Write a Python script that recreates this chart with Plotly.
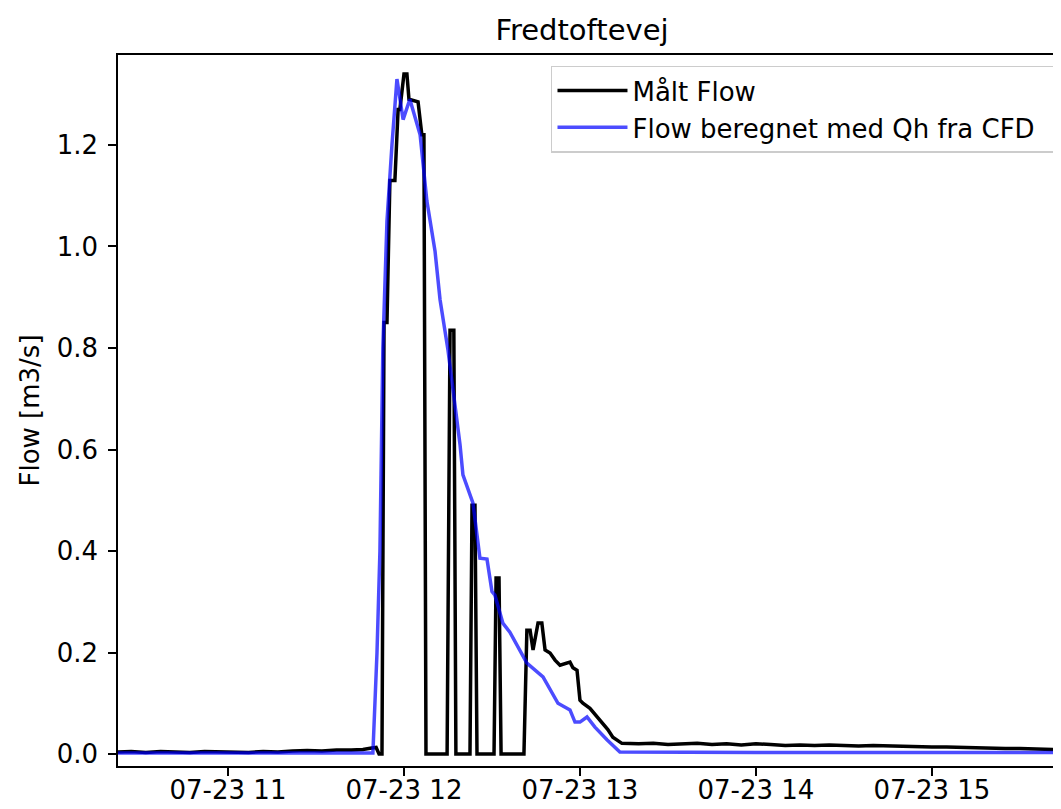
import pandas as pd
import plotly.graph_objects as go

DATE = "2021-07-23 "

# Measured flow (Målt Flow)
maalt_time = [
    "10:22", "10:27", "10:32", "10:37", "10:42", "10:47", "10:52", "10:57",
    "11:02", "11:07", "11:12", "11:17", "11:22", "11:27", "11:32", "11:37",
    "11:42", "11:46", "11:49", "11:50:30", "11:51:30", "11:52:30", "11:53:12",
    "11:54:12", "11:55:12", "11:56:54", "11:58:00", "11:58:36", "12:00:00",
    "12:01:00", "12:01:42", "12:04:48", "12:06:06", "12:06:48", "12:07:30",
    "12:14:42", "12:15:42", "12:17:00", "12:17:42", "12:22:30", "12:23:12",
    "12:24:12", "12:24:54", "12:30:42", "12:31:24", "12:32:24", "12:33:06",
    "12:40:54", "12:41:54", "12:43:00", "12:44:00", "12:45:42", "12:47:00",
    "12:48:06", "12:49:48", "12:51:30", "12:53:12", "12:55:36", "12:56:36",
    "12:57:36", "12:59:00", "13:00:00", "13:01:00", "13:03:24", "13:05:30",
    "13:07:48", "13:09:30", "13:11:12", "13:13:00", "13:14:18", "13:20",
    "13:25", "13:30", "13:35", "13:40", "13:45", "13:50", "13:55", "14:00",
    "14:05", "14:10", "14:15", "14:20", "14:25", "14:30", "14:35", "14:40",
    "14:45", "14:50", "14:55", "15:00", "15:05", "15:10", "15:15", "15:20",
    "15:25", "15:30", "15:35", "15:40", "15:45",
]
maalt_flow = [
    0.004, 0.005, 0.003, 0.005, 0.004, 0.003, 0.005, 0.004,
    0.004, 0.003, 0.005, 0.004, 0.006, 0.007, 0.006, 0.008,
    0.008, 0.009, 0.012, 0.013, 0.0, 0.0, 0.85,
    0.85, 1.13, 1.13, 1.27, 1.27, 1.34,
    1.34, 1.29, 1.285, 1.22, 1.22, 0.0,
    0.0, 0.835, 0.835, 0.0, 0.0, 0.49,
    0.49, 0.0, 0.0, 0.347, 0.347, 0.0,
    0.0, 0.244, 0.244, 0.205, 0.258, 0.258,
    0.205, 0.199, 0.185, 0.175, 0.179, 0.181,
    0.17, 0.165, 0.106, 0.10, 0.09, 0.075,
    0.061, 0.048, 0.033, 0.025, 0.021, 0.020,
    0.021, 0.019, 0.020, 0.021, 0.019, 0.020, 0.018, 0.020,
    0.019, 0.017, 0.018, 0.017, 0.018, 0.017, 0.016, 0.017,
    0.016, 0.015, 0.015, 0.014, 0.014, 0.013, 0.012, 0.012,
    0.011, 0.011, 0.010, 0.009, 0.008,
]

# Flow computed with Qh from CFD
cfd_time = [
    "10:22", "11:00", "11:30", "11:49:24", "11:50:48", "11:51:48", "11:52:48",
    "11:54:12", "11:55:54", "11:57:36", "11:59:42", "12:02:00", "12:05:30",
    "12:07:48", "12:10:36", "12:12:18", "12:15:00", "12:19:06", "12:20:06",
    "12:23:30", "12:25:54", "12:28:18", "12:30:00", "12:31:00", "12:33:42",
    "12:36:06", "12:41:54", "12:47:24", "12:52:30", "12:56:36", "12:58:18",
    "13:00:00", "13:02:24", "13:05:06", "13:09:12", "13:13:36", "14:00",
    "15:00", "15:45",
]
cfd_flow = [
    0.002, 0.002, 0.002, 0.002, 0.2, 0.40, 0.80,
    1.05, 1.20, 1.33, 1.25, 1.29, 1.22,
    1.09, 0.99, 0.895, 0.796, 0.61, 0.55,
    0.495, 0.386, 0.384, 0.32, 0.313, 0.258,
    0.24, 0.179, 0.152, 0.10, 0.087, 0.063,
    0.063, 0.073, 0.053, 0.028, 0.004, 0.003,
    0.003, 0.003,
]

series_names = ["Målt Flow", "Flow beregnet med Qh fra CFD"]

x_range = ["10:22:30", "15:44:00"]
y_range = [-0.0236, 1.3773]
y_ticks = [0.0, 0.2, 0.4, 0.6, 0.8, 1.0, 1.2]

FONT = "DejaVu Sans, Arial, sans-serif"
FS = 26
PAD = "\u00a0\u00a0"  # right padding inside legend box

# page body has an 8px margin: figure is sized so the plot fills the window like the reference
W, H = 1053, 801


def to_dt(times):
    return pd.to_datetime([DATE + t for t in times], format="mixed")


fig = go.Figure()
fig.add_trace(go.Scatter(
    x=to_dt(maalt_time), y=maalt_flow,
    mode="lines", name=series_names[0] + PAD,
    line=dict(color="black", width=3.5),
))
fig.add_trace(go.Scatter(
    x=to_dt(cfd_time), y=cfd_flow,
    mode="lines", name=series_names[1] + PAD,
    line=dict(color="rgba(0,0,255,0.7)", width=3.5),
))

fig.update_layout(
    width=W, height=H,
    margin=dict(l=110, r=0, t=47, b=43),
    paper_bgcolor="white", plot_bgcolor="white",
    font=dict(family=FONT, size=FS, color="black"),
    title=dict(text="Fredtoftevej", x=574 / W, xref="container", xanchor="center",
               y=1 - 22 / H, yref="container", yanchor="middle",
               font=dict(size=29, color="black")),
    showlegend=True,
    legend=dict(x=0.9968, xanchor="right", y=0.985, yanchor="top",
                bgcolor="rgba(255,255,255,0.8)", bordercolor="#cccccc", borderwidth=1.5,
                font=dict(size=FS, color="black"), itemwidth=70,
                tracegroupgap=0),
)
fig.update_xaxes(
    range=[pd.Timestamp(DATE + x_range[0]), pd.Timestamp(DATE + x_range[1])],
    tickformat="%m-%d %H", dtick=3600000, tick0=pd.Timestamp(DATE + "11:00"),
    ticks="outside", ticklen=8, tickwidth=1.5, tickcolor="black",
    showline=True, linecolor="black", linewidth=1.5, mirror=True,
    showgrid=False, zeroline=False, automargin=False,
    ticklabelstandoff=-8,
    tickfont=dict(size=FS, color="black"),
)
fig.update_yaxes(
    range=y_range, tickvals=y_ticks, tickformat=".1f",
    ticks="outside", ticklen=8, tickwidth=1.5, tickcolor="black",
    showline=True, linecolor="black", linewidth=1.5, mirror=False,
    showgrid=False, zeroline=False, automargin=False,
    ticklabelstandoff=5,
    tickfont=dict(size=FS, color="black"),
    title=dict(text="Flow [m3/s]", standoff=10, font=dict(size=FS, color="black")),
)

fig.write_html("out.html")
